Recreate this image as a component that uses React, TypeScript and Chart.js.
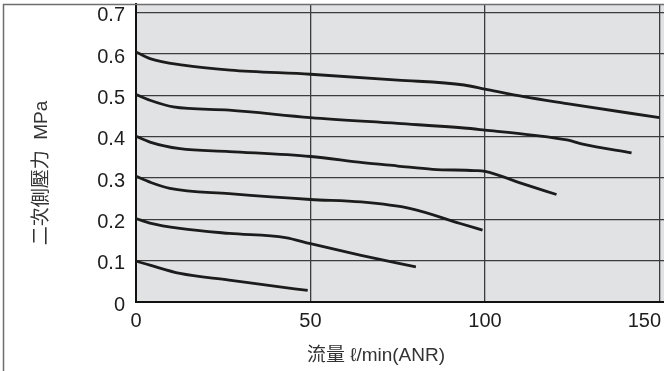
import React, { useEffect, useRef } from 'react';
import { Chart, registerables } from 'chart.js';

Chart.register(...registerables);

// Axis ticks
const xTicks = [0, 50, 100, 150];
const yTicks = [0, 0.1, 0.2, 0.3, 0.4, 0.5, 0.6, 0.7];
const xTitle = '流量 ℓ/min(ANR)';
const yTitle = '二次側壓力  MPa';

// Curves: flow (ℓ/min) and secondary pressure (MPa)
const flow06 = [0, 4, 13.5, 27, 50, 75, 94, 100, 111.5, 123.5, 150];
const press06 = [0.605, 0.589, 0.573, 0.561, 0.551, 0.537, 0.525, 0.515, 0.496, 0.48, 0.446];

const flow05 = [0, 4, 10.7, 26.7, 50, 75, 94, 100, 113.5, 123.5, 128, 142];
const press05 = [0.502, 0.488, 0.472, 0.464, 0.446, 0.432, 0.421, 0.416, 0.404, 0.392, 0.382, 0.361];

const flow04 = [0, 4, 12.6, 26.7, 50, 65, 75, 85, 97, 100, 110.5, 120.5];
const press04 = [0.401, 0.387, 0.371, 0.364, 0.352, 0.337, 0.329, 0.321, 0.318, 0.316, 0.287, 0.26];

const flow03 = [0, 4, 9.7, 26.7, 50, 64.5, 78.7, 92.9, 99.3];
const press03 = [0.304, 0.29, 0.275, 0.262, 0.248, 0.242, 0.226, 0.19, 0.174];

const flow02 = [0, 4, 12.6, 26.7, 42.8, 50, 64.5, 80.2];
const press02 = [0.202, 0.191, 0.178, 0.166, 0.156, 0.141, 0.113, 0.085];

const flow01 = [0, 4, 12.6, 26.7, 38, 49.2];
const press01 = [0.099, 0.089, 0.069, 0.053, 0.04, 0.028];

const curves = [
  [flow06, press06],
  [flow05, press05],
  [flow04, press04],
  [flow03, press03],
  [flow02, press02],
  [flow01, press01],
];

const FONT = '"Liberation Sans", Arial, "Noto Sans CJK TC", sans-serif';
const TITLE_FONT = '"Liberation Sans", Arial, "Noto Sans CJK TC", "DejaVu Sans", sans-serif';

const decorPlugin = {
  id: 'decor',
  beforeDraw(chart: any) {
    const { ctx, chartArea } = chart;
    ctx.save();
    ctx.fillStyle = '#e1e2e4';
    ctx.fillRect(chartArea.left, chartArea.top, chartArea.right - chartArea.left, chartArea.bottom - chartArea.top);
    ctx.restore();
  },
  afterDraw(chart: any) {
    const { ctx, chartArea } = chart;
    const xs = chart.scales.x;
    ctx.save();
    // frame
    ctx.strokeStyle = '#6e6e6e';
    ctx.lineWidth = 1.5;
    ctx.beginPath();
    ctx.moveTo(3.5, chart.height);
    ctx.lineTo(3.5, 4.5);
    ctx.lineTo(chart.width, 4.5);
    ctx.stroke();

    // x tick labels
    ctx.font = '20px ' + FONT;
    ctx.fillStyle = '#1e1e1e';
    ctx.textBaseline = 'middle';
    ctx.textAlign = 'center';
    xTicks.forEach((v) => {
      const t = String(v);
      const w = ctx.measureText(t).width;
      const px = Math.min(xs.getPixelForValue(v), chart.width - w / 2 - 3);
      ctx.fillText(t, px, chartArea.bottom + 19);
    });

    // x title
    ctx.font = '19px ' + TITLE_FONT;
    ctx.fillStyle = '#333';
    ctx.fillText(xTitle, 376, 356);

    // y title
    ctx.translate(42, 173);
    ctx.rotate(-Math.PI / 2);
    ctx.fillText(yTitle, 0, 0);
    ctx.restore();
  },
};

export default function App() {
  const ref = useRef<HTMLCanvasElement | null>(null);

  useEffect(() => {
    if (!ref.current) return;
    const datasets = curves.map(([fx, py]) => ({
      data: fx.map((x, i) => ({ x, y: py[i] })),
      borderColor: '#1c1c1c',
      borderWidth: 2.8,
      pointRadius: 0,
      fill: false,
      cubicInterpolationMode: 'monotone' as const,
    }));
    const chart = new Chart(ref.current, {
      type: 'line',
      data: { datasets },
      plugins: [decorPlugin],
      options: {
        animation: false,
        responsive: false,
        devicePixelRatio: 1,
        layout: { padding: { top: 4, left: 0, right: 0, bottom: 0 } },
        plugins: { legend: { display: false }, tooltip: { enabled: false } },
        scales: {
          x: {
            type: 'linear',
            min: 0,
            max: 151.3,
            afterBuildTicks: (s: any) => {
              s.ticks = xTicks.map((v) => ({ value: v }));
            },
            afterFit: (s: any) => {
              s.height = 69;
              s.paddingLeft = 0;
              s.paddingRight = 0;
            },
            grid: { color: '#3c3c3c', lineWidth: 1.3, drawTicks: false },
            border: { color: '#111', width: 2 },
            ticks: { display: false },
          },
          y: {
            type: 'linear',
            min: 0,
            max: 0.721,
            afterBuildTicks: (s: any) => {
              s.ticks = yTicks.map((v) => ({ value: v }));
            },
            afterFit: (s: any) => {
              s.width = 136;
              s.paddingTop = 0;
              s.paddingBottom = 0;
            },
            grid: { color: '#3c3c3c', lineWidth: 1.3, drawTicks: false },
            border: { color: '#111', width: 2 },
            ticks: {
              padding: 11,
              labelOffset: 3,
              color: '#1e1e1e',
              font: { family: FONT, size: 20 },
              callback: (v: any) => (Number(v) === 0 ? '0' : Number(v).toFixed(1)),
            },
          },
        },
      },
    });
    return () => chart.destroy();
  }, []);

  return (
    <div style={{ position: 'absolute', left: 0, top: 0, width: 664, height: 371, background: '#fff' }}>
      <canvas ref={ref} width={664} height={371} style={{ width: 664, height: 371, display: 'block' }} />
    </div>
  );
}
